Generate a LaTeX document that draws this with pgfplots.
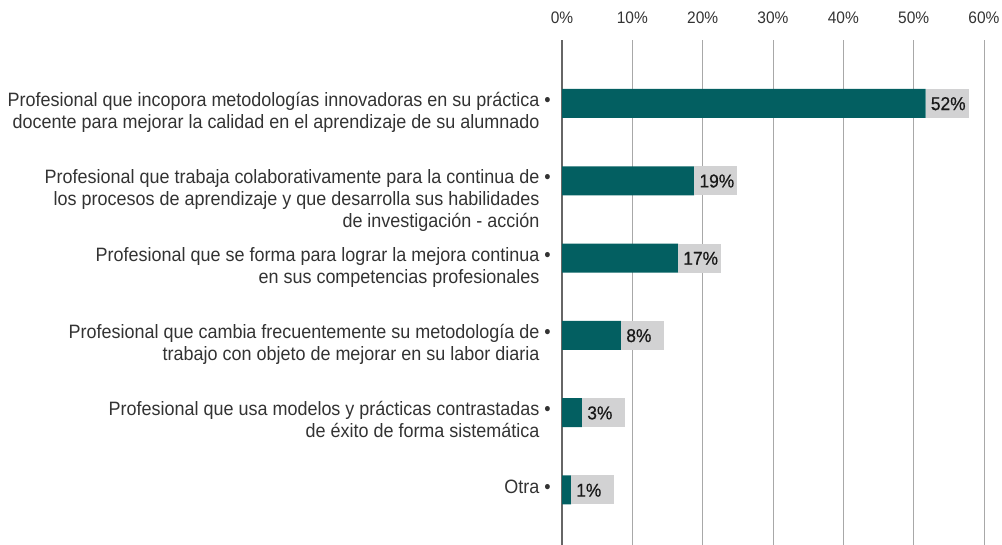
\documentclass[border=0pt]{standalone}
\usepackage{pgfplots}
\pgfplotsset{compat=1.18}
\usepackage{fontspec}
\setmainfont{Liberation Sans}[FakeStretch=0.93]
\newfontfamily\valfont{Liberation Sans}[FakeStretch=0.93, FakeBold=0.6]
\definecolor{barteal}{HTML}{035F61}
\definecolor{boxgray}{HTML}{D2D2D3}
\definecolor{labgray}{HTML}{333333}
\definecolor{gridgray}{HTML}{A8A8A8}
\definecolor{zerogray}{HTML}{666666}
\newcommand{\lab}[1]{\begin{tabular}[t]{@{}r@{}}#1\end{tabular}~•}
\begin{document}
\begin{tikzpicture}
\useasboundingbox (0,0) rectangle (751.5pt,408.75pt);
\begin{axis}[
  at={(421.5pt,0pt)}, anchor=south west,
  scale only axis, width=316.5pt, height=378.75pt,
  xbar, bar width=21.75pt,
  xmin=0, xmax=60, ymin=-0.7115, ymax=5.821,
  xtick={0,10,...,60},
  xticklabel={\pgfmathprintnumber{\tick}\%},
  /pgf/number format/assume math mode=true,
  xticklabel pos=upper,
  xticklabel style={font=\fontsize{12.5pt}{14pt}\selectfont, text=labgray, anchor=base, yshift=12pt, inner sep=0pt},
  xmajorgrids, grid style={gridgray, line width=0.75pt},
  extra x ticks={0}, extra x tick labels={},
  extra x tick style={grid style={zerogray, line width=0.85pt}},
  axis line style={draw=none}, tick style={draw=none},
  ytick={0,1,2,3,4,5},
  yticklabels={
    {\lab{Otra}},
    {\lab{Profesional que usa modelos y prácticas contrastadas\\de éxito de forma sistemática}},
    {\lab{Profesional que cambia frecuentemente su metodología de\\trabajo con objeto de mejorar en su labor diaria}},
    {\lab{Profesional que se forma para lograr la mejora continua\\en sus competencias profesionales}},
    {\lab{Profesional que trabaja colaborativamente para la continua de\\los procesos de aprendizaje y que desarrolla sus habilidades\\de investigación - acción}},
    {\lab{Profesional que incopora metodologías innovadoras en su práctica\\docente para mejorar la calidad en el aprendizaje de su alumnado}}
  },
  yticklabel style={anchor=north east, inner sep=0pt, xshift=-4pt, yshift=9.4pt, font=\fontsize{14.5pt}{16.5pt}\selectfont, text=labgray},
  nodes near coords={\pgfplotspointmeta\%},
  point meta=explicit symbolic,
  every node near coord/.style={anchor=west, fill=boxgray, inner xsep=3.75pt, inner ysep=0pt, text width=24.75pt, align=left, text height=10pt, text depth=0pt, minimum height=21.75pt, font=\fontsize{14pt}{16pt}\valfont, text=black!90},
]
\addplot[fill=barteal, draw=none] table[x=x, y=y, meta=lab] {
y x lab
5 51.7 52
4 18.8 19
3 16.5 17
2 8.4 8
1 2.85 3
0 1.28 1
};
\end{axis}
\end{tikzpicture}
\end{document}
